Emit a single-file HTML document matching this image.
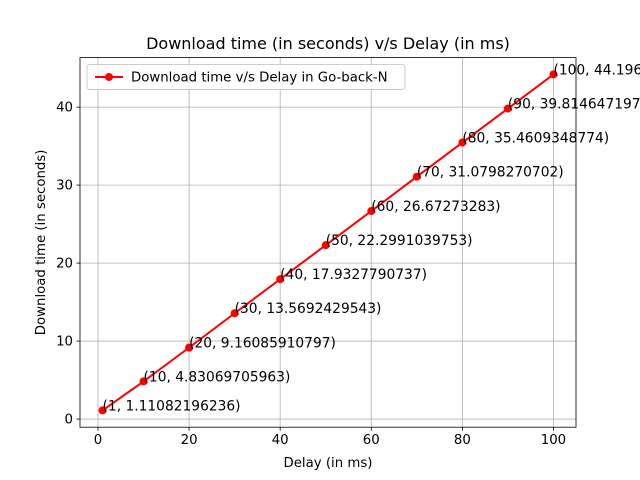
<!DOCTYPE html>
<html>
<head>
<meta charset="utf-8">
<style>
html,body{margin:0;padding:0;background:#fff;}
svg{display:block;font-family:"DejaVu Sans","Liberation Sans",sans-serif;}
</style>
</head>
<body>
<svg id="chart" width="640" height="480" viewBox="0 0 640 480"></svg>
<script>
const delays = [1, 10, 20, 30, 40, 50, 60, 70, 80, 90, 100];
const times = [1.11082196236, 4.83069705963, 9.16085910797, 13.5692429543, 17.9327790737, 22.2991039753, 26.67273283, 31.0798270702, 35.4609348774, 39.8146471977, 44.1962014321];
const pointLabels = ["(1, 1.11082196236)", "(10, 4.83069705963)", "(20, 9.16085910797)", "(30, 13.5692429543)", "(40, 17.9327790737)", "(50, 22.2991039753)", "(60, 26.67273283)", "(70, 31.0798270702)", "(80, 35.4609348774)", "(90, 39.8146471977)", "(100, 44.1962014321)"];
const xTicks = [0, 20, 40, 60, 80, 100];
const yTicks = [0, 10, 20, 30, 40];

const svg = document.getElementById('chart');
const NS = 'http://www.w3.org/2000/svg';
const L = 80, R = 576, T = 57.6, B = 427.2;
const xmin0 = Math.min(...delays), xmax0 = Math.max(...delays);
const ymin0 = Math.min(...times), ymax0 = Math.max(...times);
const xm = (xmax0 - xmin0) * 0.05, ym = (ymax0 - ymin0) * 0.05;
const xMin = xmin0 - xm, xMax = xmax0 + xm, yMin = ymin0 - ym, yMax = ymax0 + ym;
const sx = v => L + (v - xMin) / (xMax - xMin) * (R - L);
const sy = v => B - (v - yMin) / (yMax - yMin) * (B - T);

function mk(tag, attrs, parent) {
  const e = document.createElementNS(NS, tag);
  for (const k in attrs) e.setAttribute(k, attrs[k]);
  (parent || svg).appendChild(e);
  return e;
}

xTicks.forEach(t => {
  const x = sx(t);
  const g = mk('line', {x1: x, x2: x, y1: T, y2: B, stroke: '#b0b0b0', 'stroke-width': 0.8});
  
  
  const tk = mk('line', {x1: x, x2: x, y1: B, y2: B + 3.5, stroke: '#000', 'stroke-width': 0.8});
  
  
  const tx = mk('text', {x: x, y: B + 17, 'text-anchor': 'middle', 'font-size': 13.3});
  tx.textContent = t;
  
  
});
yTicks.forEach(t => {
  const y = sy(t);
  const g = mk('line', {x1: L, x2: R, y1: y, y2: y, stroke: '#b0b0b0', 'stroke-width': 0.8});
  
  
  const tk = mk('line', {x1: L - 3.5, x2: L, y1: y, y2: y, stroke: '#000', 'stroke-width': 0.8});
  
  
  const tx = mk('text', {x: L - 7, y: y + 4.5, 'text-anchor': 'end', 'font-size': 13.3});
  tx.textContent = t;
  
  
});

const pl = mk('polyline', {points: delays.map((d, i) => sx(d) + ',' + sy(times[i])).join(' '), fill: 'none', stroke: '#ff0000', 'stroke-width': 2});


delays.forEach((d, i) => {
  const c = mk('circle', {cx: sx(d), cy: sy(times[i]), r: 4, fill: '#ff0000'});
  
  
  const t = mk('text', {x: sx(d), y: sy(times[i]), 'font-size': 13.8});
  t.textContent = pointLabels[i];
  
  
});

const fr = mk('rect', {x: L, y: T, width: R - L, height: B - T, fill: 'none', stroke: '#000', 'stroke-width': 0.8});



const title = mk('text', {x: (L + R) / 2, y: 49, 'text-anchor': 'middle', 'font-size': 16});
title.textContent = 'Download time (in seconds) v/s Delay (in ms)';


const xt = mk('text', {x: (L + R) / 2, y: 467, 'text-anchor': 'middle', 'font-size': 13.3});
xt.textContent = 'Delay (in ms)';


const yt = mk('text', {x: 0, y: 0, 'text-anchor': 'middle', 'font-size': 13.3, transform: 'translate(45,' + (T + B) / 2 + ') rotate(-90)'});
yt.textContent = 'Download time (in seconds)';



const lg = mk('g', {});


mk('rect', {x: 87, y: 64.5, width: 318, height: 25, rx: 3, fill: '#fff', 'fill-opacity': 0.8, stroke: '#cccccc', 'stroke-width': 1}, lg);
mk('line', {x1: 95, x2: 123, y1: 77, y2: 77, stroke: '#ff0000', 'stroke-width': 2}, lg);
mk('circle', {cx: 109, cy: 77, r: 4, fill: '#ff0000'}, lg);
const lt = mk('text', {x: 131, y: 81.5, 'font-size': 13.3}, lg);
lt.textContent = 'Download time v/s Delay in Go-back-N';


</script>
</body>
</html>
